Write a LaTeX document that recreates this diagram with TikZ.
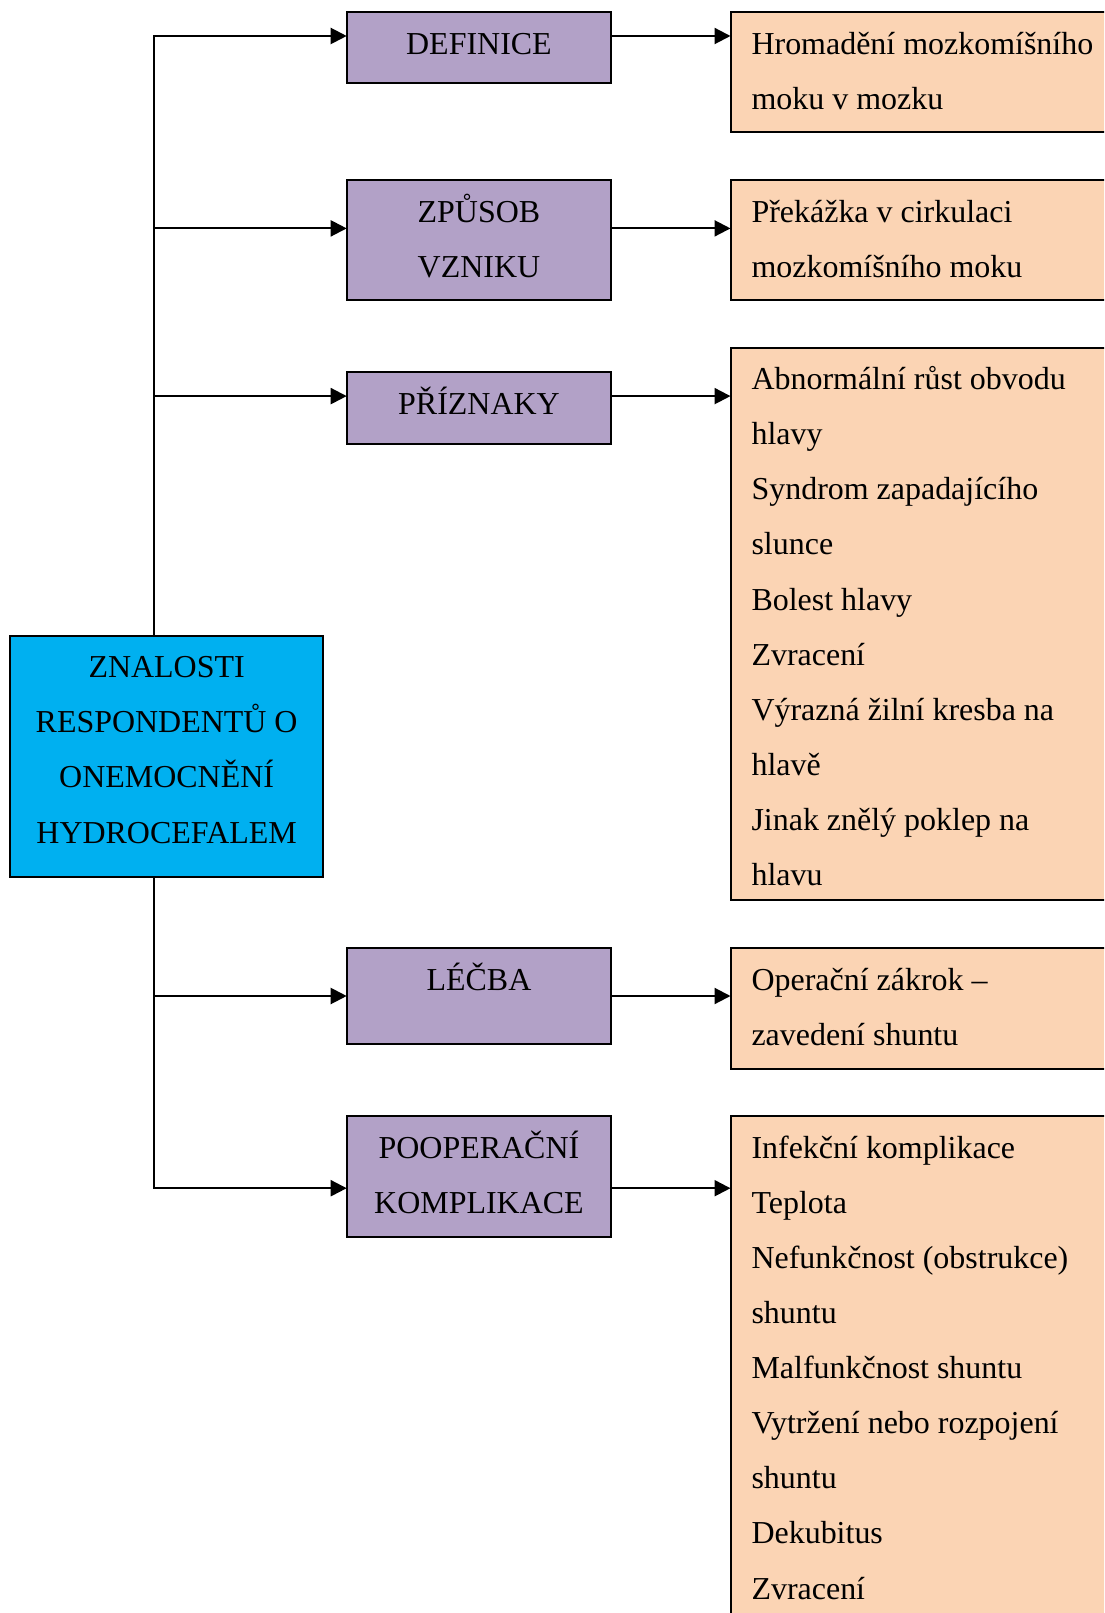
\documentclass[tikz,border=0pt]{standalone}
\usepackage{fontspec}
\setmainfont{Liberation Serif}
\usetikzlibrary{arrows.meta}
\newlength\px
\setlength\px{0.3755pt}
\definecolor{cyanbox}{HTML}{00B0F0}
\definecolor{purplebox}{HTML}{B2A1C7}
\definecolor{orangebox}{HTML}{FBD4B4}
\newcommand\firstln{\rule{0pt}{14pt}}
\begin{document}
\begin{tikzpicture}[x=\px, y=-\px,
  box/.style={draw=black, line width=0.75pt, inner sep=0pt, outer sep=0pt, anchor=north west},
  cbox/.style={box, fill=cyanbox},
  pbox/.style={box, fill=purplebox, minimum width=264.5\px},
  obox/.style={box, fill=orangebox, minimum width=420\px},
  txt/.style={inner sep=0pt, font=\fontsize{12pt}{20.7pt}\selectfont},
  ctxt/.style={txt, align=center, anchor=north, yshift=-4\px},
  ltxt/.style={txt, align=left, anchor=north west, xshift=20.5\px, yshift=-4\px},
  conn/.style={line width=0.8pt, -{Triangle[length=6pt,width=6pt]}}
]
\useasboundingbox (0,0) rectangle (1104,1613);
\clip (0,0) rectangle (1104,1613);

% central box
\node[cbox, minimum width=312.7\px, minimum height=240.7\px] (cent) at (10.3,635.9) {};
\node[ctxt] (tcent) at (cent.north) {\firstln ZNALOSTI\\RESPONDENTŮ O\\ONEMOCNĚNÍ\\HYDROCEFALEM};

% purple boxes
\node[pbox, minimum height=71\px] (def) at (346.7,12.3) {};
\node[ctxt] (tdef) at (def.north) {\firstln DEFINICE};
\node[pbox, minimum height=120.2\px] (zpu) at (346.7,180.2) {};
\node[ctxt] (tzpu) at (zpu.north) {\firstln ZPŮSOB\\VZNIKU};
\node[pbox, minimum height=72\px] (pri) at (346.7,372.5) {};
\node[ctxt] (tpri) at (pri.north) {\firstln PŘÍZNAKY};
\node[pbox, minimum height=95.9\px] (lec) at (346.7,948.4) {};
\node[ctxt] (tlec) at (lec.north) {\firstln LÉČBA};
\node[pbox, minimum height=120.4\px] (poo) at (346.7,1116.2) {};
\node[ctxt] (tpoo) at (poo.north) {\firstln POOPERAČNÍ\\KOMPLIKACE};

% orange boxes
\node[obox, minimum height=119.4\px] (o1) at (730.5,12.3) {};
\node[ltxt] (to1) at (o1.north west) {\firstln Hromadění mozkomíšního\\moku v mozku};
\node[obox, minimum height=120.2\px] (o2) at (730.5,180.2) {};
\node[ltxt] (to2) at (o2.north west) {\firstln Překážka v cirkulaci\\mozkomíšního moku};
\node[obox, minimum height=552.5\px] (o3) at (730.5,347.8) {};
\node[ltxt] (to3) at (o3.north west) {\firstln Abnormální růst obvodu\\hlavy\\Syndrom zapadajícího\\slunce\\Bolest hlavy\\Zvracení\\Výrazná žilní kresba na\\hlavě\\Jinak znělý poklep na\\hlavu};
\node[obox, minimum height=120.2\px] (o4) at (730.5,948.4) {};
\node[ltxt] (to4) at (o4.north west) {\firstln Operační zákrok –\\zavedení shuntu};
\node[obox, minimum height=600\px] (o5) at (730.5,1116.2) {};
\node[ltxt] (to5) at (o5.north west) {\firstln Infekční komplikace\\Teplota\\Nefunkčnost (obstrukce)\\shuntu\\Malfunkčnost shuntu\\Vytržení nebo rozpojení\\shuntu\\Dekubitus\\Zvracení};

% connector levels
\coordinate (tr) at (154.3,0);
\coordinate (l1) at (0,36);
\coordinate (l2) at (0,228.4);
\coordinate (l3) at (0,396.1);
\coordinate (l4) at (0,996);
\coordinate (l5) at (0,1188.2);

% trunk and branches
\draw[conn] (cent.north -| tr) |- (def.west |- l1);
\draw[conn] (tr |- l2) -- (zpu.west |- l2);
\draw[conn] (tr |- l3) -- (pri.west |- l3);
\draw[conn] (cent.south -| tr) |- (poo.west |- l5);
\draw[conn] (tr |- l4) -- (lec.west |- l4);

% right arrows
\draw[conn] (def.east |- l1) -- (o1.west |- l1);
\draw[conn] (zpu.east |- l2) -- (o2.west |- l2);
\draw[conn] (pri.east |- l3) -- (o3.west |- l3);
\draw[conn] (lec.east |- l4) -- (o4.west |- l4);
\draw[conn] (poo.east |- l5) -- (o5.west |- l5);
\end{tikzpicture}
\end{document}
